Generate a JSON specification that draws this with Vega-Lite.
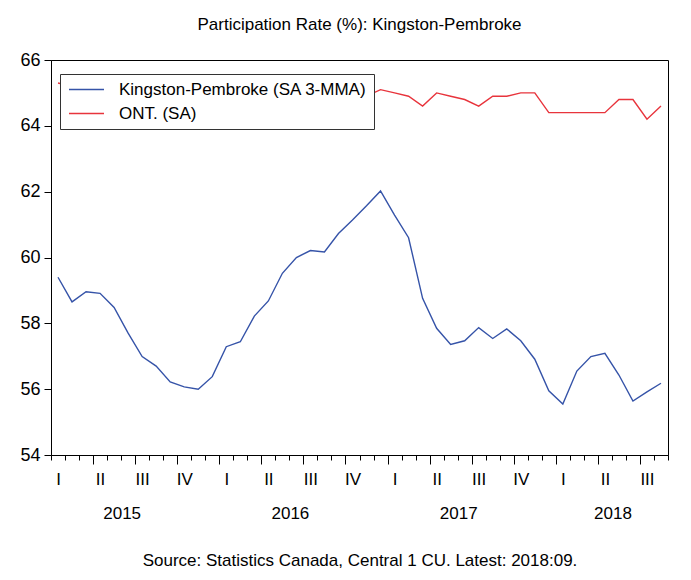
{
  "$schema": "https://vega.github.io/schema/vega-lite/v6.json",
  "autosize": {"type": "none"},
  "width": 617,
  "height": 395,
  "padding": {"left": 51, "top": 60, "right": 23, "bottom": 125},
  "background": "white",
  "title": {"text": "Participation Rate (%): Kingston-Pembroke", "frame": "group", "anchor": "middle", "font": "Liberation Sans", "fontSize": 17, "fontWeight": "normal", "color": "black", "offset": 0, "baseline": "bottom"},
  "data": {"values": [
    {"date": "2015-01", "series": "Kingston-Pembroke (SA 3-MMA)", "value": 59.40},
    {"date": "2015-02", "series": "Kingston-Pembroke (SA 3-MMA)", "value": 58.65},
    {"date": "2015-03", "series": "Kingston-Pembroke (SA 3-MMA)", "value": 58.96},
    {"date": "2015-04", "series": "Kingston-Pembroke (SA 3-MMA)", "value": 58.91},
    {"date": "2015-05", "series": "Kingston-Pembroke (SA 3-MMA)", "value": 58.48},
    {"date": "2015-06", "series": "Kingston-Pembroke (SA 3-MMA)", "value": 57.70},
    {"date": "2015-07", "series": "Kingston-Pembroke (SA 3-MMA)", "value": 56.99},
    {"date": "2015-08", "series": "Kingston-Pembroke (SA 3-MMA)", "value": 56.70},
    {"date": "2015-09", "series": "Kingston-Pembroke (SA 3-MMA)", "value": 56.22},
    {"date": "2015-10", "series": "Kingston-Pembroke (SA 3-MMA)", "value": 56.07},
    {"date": "2015-11", "series": "Kingston-Pembroke (SA 3-MMA)", "value": 56.00},
    {"date": "2015-12", "series": "Kingston-Pembroke (SA 3-MMA)", "value": 56.38},
    {"date": "2016-01", "series": "Kingston-Pembroke (SA 3-MMA)", "value": 57.29},
    {"date": "2016-02", "series": "Kingston-Pembroke (SA 3-MMA)", "value": 57.44},
    {"date": "2016-03", "series": "Kingston-Pembroke (SA 3-MMA)", "value": 58.22},
    {"date": "2016-04", "series": "Kingston-Pembroke (SA 3-MMA)", "value": 58.68},
    {"date": "2016-05", "series": "Kingston-Pembroke (SA 3-MMA)", "value": 59.52},
    {"date": "2016-06", "series": "Kingston-Pembroke (SA 3-MMA)", "value": 60.00},
    {"date": "2016-07", "series": "Kingston-Pembroke (SA 3-MMA)", "value": 60.21},
    {"date": "2016-08", "series": "Kingston-Pembroke (SA 3-MMA)", "value": 60.17},
    {"date": "2016-09", "series": "Kingston-Pembroke (SA 3-MMA)", "value": 60.73},
    {"date": "2016-10", "series": "Kingston-Pembroke (SA 3-MMA)", "value": 61.14},
    {"date": "2016-11", "series": "Kingston-Pembroke (SA 3-MMA)", "value": 61.57},
    {"date": "2016-12", "series": "Kingston-Pembroke (SA 3-MMA)", "value": 62.02},
    {"date": "2017-01", "series": "Kingston-Pembroke (SA 3-MMA)", "value": 61.29},
    {"date": "2017-02", "series": "Kingston-Pembroke (SA 3-MMA)", "value": 60.60},
    {"date": "2017-03", "series": "Kingston-Pembroke (SA 3-MMA)", "value": 58.76},
    {"date": "2017-04", "series": "Kingston-Pembroke (SA 3-MMA)", "value": 57.85},
    {"date": "2017-05", "series": "Kingston-Pembroke (SA 3-MMA)", "value": 57.36},
    {"date": "2017-06", "series": "Kingston-Pembroke (SA 3-MMA)", "value": 57.47},
    {"date": "2017-07", "series": "Kingston-Pembroke (SA 3-MMA)", "value": 57.87},
    {"date": "2017-08", "series": "Kingston-Pembroke (SA 3-MMA)", "value": 57.54},
    {"date": "2017-09", "series": "Kingston-Pembroke (SA 3-MMA)", "value": 57.83},
    {"date": "2017-10", "series": "Kingston-Pembroke (SA 3-MMA)", "value": 57.47},
    {"date": "2017-11", "series": "Kingston-Pembroke (SA 3-MMA)", "value": 56.91},
    {"date": "2017-12", "series": "Kingston-Pembroke (SA 3-MMA)", "value": 55.95},
    {"date": "2018-01", "series": "Kingston-Pembroke (SA 3-MMA)", "value": 55.55},
    {"date": "2018-02", "series": "Kingston-Pembroke (SA 3-MMA)", "value": 56.55},
    {"date": "2018-03", "series": "Kingston-Pembroke (SA 3-MMA)", "value": 56.99},
    {"date": "2018-04", "series": "Kingston-Pembroke (SA 3-MMA)", "value": 57.09},
    {"date": "2018-05", "series": "Kingston-Pembroke (SA 3-MMA)", "value": 56.43},
    {"date": "2018-06", "series": "Kingston-Pembroke (SA 3-MMA)", "value": 55.64},
    {"date": "2018-07", "series": "Kingston-Pembroke (SA 3-MMA)", "value": 55.92},
    {"date": "2018-08", "series": "Kingston-Pembroke (SA 3-MMA)", "value": 56.18},
    {"date": "2015-01", "series": "ONT. (SA)", "value": 65.3},
    {"date": "2015-02", "series": "ONT. (SA)", "value": 65.2},
    {"date": "2015-03", "series": "ONT. (SA)", "value": 65.2},
    {"date": "2015-04", "series": "ONT. (SA)", "value": 65.1},
    {"date": "2015-05", "series": "ONT. (SA)", "value": 65.1},
    {"date": "2015-06", "series": "ONT. (SA)", "value": 65.0},
    {"date": "2015-07", "series": "ONT. (SA)", "value": 65.0},
    {"date": "2015-08", "series": "ONT. (SA)", "value": 65.2},
    {"date": "2015-09", "series": "ONT. (SA)", "value": 65.1},
    {"date": "2015-10", "series": "ONT. (SA)", "value": 64.9},
    {"date": "2015-11", "series": "ONT. (SA)", "value": 64.8},
    {"date": "2015-12", "series": "ONT. (SA)", "value": 65.0},
    {"date": "2016-01", "series": "ONT. (SA)", "value": 65.0},
    {"date": "2016-02", "series": "ONT. (SA)", "value": 64.9},
    {"date": "2016-03", "series": "ONT. (SA)", "value": 65.0},
    {"date": "2016-04", "series": "ONT. (SA)", "value": 64.8},
    {"date": "2016-05", "series": "ONT. (SA)", "value": 64.9},
    {"date": "2016-06", "series": "ONT. (SA)", "value": 64.7},
    {"date": "2016-07", "series": "ONT. (SA)", "value": 64.7},
    {"date": "2016-08", "series": "ONT. (SA)", "value": 64.6},
    {"date": "2016-09", "series": "ONT. (SA)", "value": 64.6},
    {"date": "2016-10", "series": "ONT. (SA)", "value": 64.8},
    {"date": "2016-11", "series": "ONT. (SA)", "value": 64.9},
    {"date": "2016-12", "series": "ONT. (SA)", "value": 65.1},
    {"date": "2017-01", "series": "ONT. (SA)", "value": 65.0},
    {"date": "2017-02", "series": "ONT. (SA)", "value": 64.9},
    {"date": "2017-03", "series": "ONT. (SA)", "value": 64.6},
    {"date": "2017-04", "series": "ONT. (SA)", "value": 65.0},
    {"date": "2017-05", "series": "ONT. (SA)", "value": 64.9},
    {"date": "2017-06", "series": "ONT. (SA)", "value": 64.8},
    {"date": "2017-07", "series": "ONT. (SA)", "value": 64.6},
    {"date": "2017-08", "series": "ONT. (SA)", "value": 64.9},
    {"date": "2017-09", "series": "ONT. (SA)", "value": 64.9},
    {"date": "2017-10", "series": "ONT. (SA)", "value": 65.0},
    {"date": "2017-11", "series": "ONT. (SA)", "value": 65.0},
    {"date": "2017-12", "series": "ONT. (SA)", "value": 64.4},
    {"date": "2018-01", "series": "ONT. (SA)", "value": 64.4},
    {"date": "2018-02", "series": "ONT. (SA)", "value": 64.4},
    {"date": "2018-03", "series": "ONT. (SA)", "value": 64.4},
    {"date": "2018-04", "series": "ONT. (SA)", "value": 64.4},
    {"date": "2018-05", "series": "ONT. (SA)", "value": 64.8},
    {"date": "2018-06", "series": "ONT. (SA)", "value": 64.8},
    {"date": "2018-07", "series": "ONT. (SA)", "value": 64.2},
    {"date": "2018-08", "series": "ONT. (SA)", "value": 64.6}
  ]},
  "layer": [
    {
      "mark": {"type": "line", "strokeWidth": 1.4},
      "encoding": {
        "x": {
          "field": "date", "type": "ordinal",
          "scale": {"type": "band", "paddingInner": 0, "paddingOuter": 0},
          "axis": {
            "orient": "bottom",
            "title": null,
            "tickBand": "extent",
            "labelExpr": "substring(datum.value,5,7) == '01' ? 'I' : substring(datum.value,5,7) == '04' ? 'II' : substring(datum.value,5,7) == '07' ? 'III' : substring(datum.value,5,7) == '10' ? 'IV' : ''",
            "tickSize": {"condition": {"test": "indexof(['03','06','09','12'], substring(datum.value,5,7)) >= 0", "value": 9}, "value": 5},
            "labelAngle": 0,
            "labelOverlap": false,
            "labelBound": false,
            "labelFont": "Liberation Sans",
            "labelFontSize": 17,
            "labelColor": "black",
            "labelPadding": 11,
            "domainColor": "black",
            "tickColor": "black",
            "grid": false
          }
        },
        "y": {
          "field": "value", "type": "quantitative",
          "scale": {"domain": [54, 66], "nice": false, "zero": false},
          "axis": {
            "title": null,
            "values": [54, 56, 58, 60, 62, 64, 66],
            "tickSize": 7,
            "labelPadding": 4,
            "labelFont": "Liberation Sans",
            "labelFontSize": 18,
            "labelColor": "black",
            "domainColor": "black",
            "tickColor": "black",
            "grid": false
          }
        },
        "color": {
          "field": "series", "type": "nominal",
          "scale": {"domain": ["Kingston-Pembroke (SA 3-MMA)", "ONT. (SA)"], "range": ["#3553A8", "#E8343C"]},
          "legend": {
            "title": null,
            "orient": "none",
            "legendX": 9,
            "legendY": 14,
            "fillColor": "white",
            "strokeColor": "#333333",
            "padding": 7,
            "symbolType": "M-2.5,0L2.5,0",
            "symbolSize": 196,
            "symbolStrokeWidth": 1.4,
            "symbolOffset": 11,
            "labelOffset": 24,
            "rowPadding": 6,
            "labelFont": "Liberation Sans",
            "labelFontSize": 17,
            "labelColor": "black",
            "labelLimit": 400
          }
        }
      }
    },
    {
      "mark": {"type": "point", "opacity": 0},
      "encoding": {
        "x": {
          "field": "date", "type": "ordinal",
          "axis": {
            "orient": "bottom",
            "title": "Source: Statistics Canada, Central 1 CU. Latest: 2018:09.",
            "titleFont": "Liberation Sans",
            "titleFontSize": 17,
            "titleFontWeight": "normal",
            "titleColor": "black",
            "titlePadding": 31,
            "values": ["2015-06", "2016-06", "2017-06", "2018-05"],
            "labelOffset": -6,
            "labelExpr": "substring(datum.value,0,4)",
            "labelAngle": 0,
            "labelOverlap": false,
            "labelBound": false,
            "labelFont": "Liberation Sans",
            "labelFontSize": 17,
            "labelColor": "black",
            "labelPadding": 50,
            "ticks": false,
            "domain": false,
            "grid": false
          }
        }
      }
    }
  ],
  "resolve": {"axis": {"x": "independent"}},
  "config": {
    "view": {"stroke": "black", "strokeWidth": 1},
    "font": "Liberation Sans"
  }
}
